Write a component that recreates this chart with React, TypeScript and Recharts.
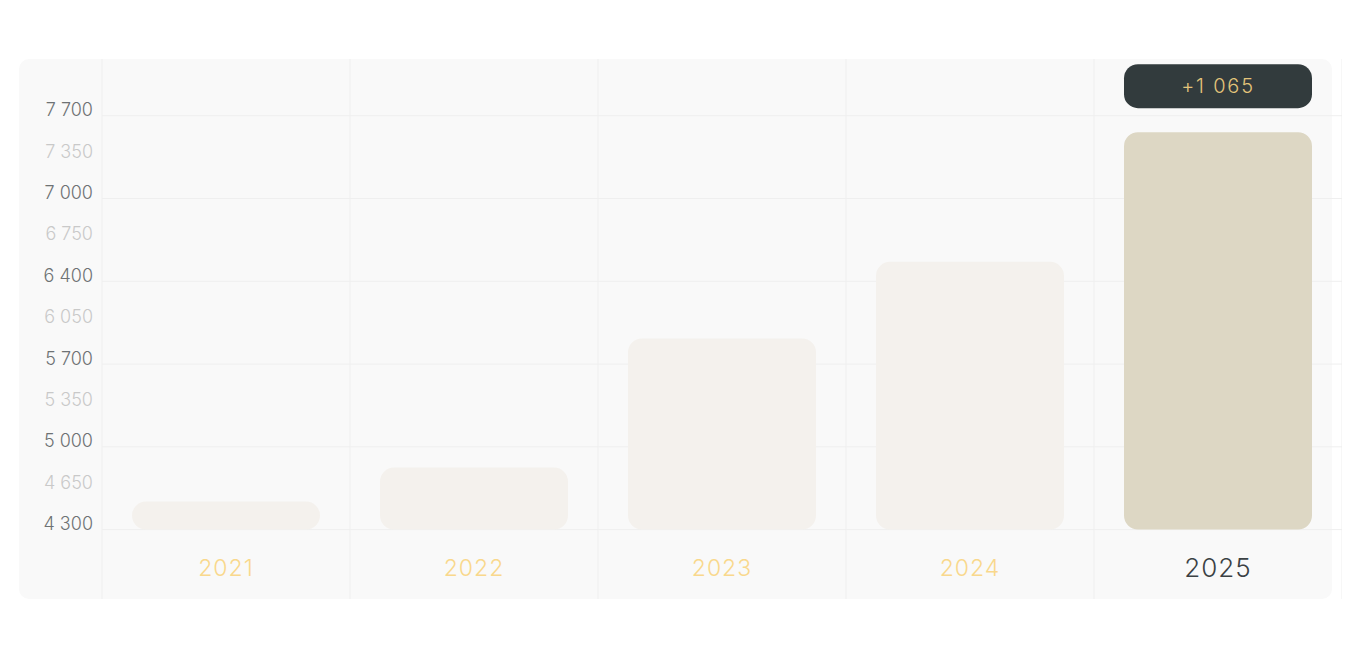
import React from 'react';
import { BarChart, Bar, XAxis, YAxis, CartesianGrid, LabelList, Cell } from 'recharts';

const YEARS = ['2021', '2022', '2023', '2024', '2025'];
const VALUES = [4530, 4810, 5870, 6500, 7565];
const BASE = 4300;

const TICK_VALUES = [4300, 4640, 4980, 5320, 5660, 6000, 6340, 6680, 7020, 7360, 7700];
const TICK_LABELS = ['4 300', '4 650', '5 000', '5 350', '5 700', '6 050', '6 400', '6 750', '7 000', '7 350', '7 700'];
const MAJOR_TICKS = [4300, 4980, 5660, 6340, 7020, 7700];

const FONT = 'Inter, "Noto Sans", sans-serif';
const BAR_COLOR = '#f4f1ed';
const BAR_ACTIVE = '#ddd7c4';

const data = YEARS.map((year, i) => ({ year, range: [BASE, VALUES[i]], value: VALUES[i] }));
const last = YEARS.length - 1;
const delta = VALUES[last] - VALUES[last - 1];
const fmt = (n: number) => String(n).replace(/\B(?=(\d{3})+(?!\d))/g, ' ');

const YTick = ({ x, y, payload }: any) => {
    const label = TICK_LABELS[TICK_VALUES.indexOf(payload.value)] ?? '';
    const major = MAJOR_TICKS.includes(payload.value);
    return (
        <text x={x} y={y - 6} textAnchor="end" dominantBaseline="central" fontFamily={FONT} fontWeight={300}
            fontSize={18} fill={major ? '#6e7274' : '#c9c9c9'}>
            {label}
        </text>
    );
};

// year labels sit under each bar, inside the panel
const YearLabel = (props: any) => {
    const { x, y, width, height, index } = props;
    const active = index === last;
    return (
        <text x={x + width / 2} y={y + height + 38} textAnchor="middle" dominantBaseline="central" fontFamily={FONT}
            fontWeight={300} fontSize={active ? 26 : 23} letterSpacing={1} fill={active ? '#3b4144' : '#f9d88c'}>
            {YEARS[index]}
        </text>
    );
};

const Badge = (props: any) => {
    const { x, y, width, index } = props;
    if (index !== last) return null;
    const h = 44;
    const top = y - 24 - h;
    return (
        <g>
            <rect x={x} y={top} width={width} height={h} rx={14} ry={14} fill="#323b3d" />
            <text x={x + width / 2} y={top + h / 2} textAnchor="middle" dominantBaseline="central" fontFamily={FONT}
                fontWeight={300} fontSize={20} letterSpacing={1.8} fill="#e3c47a">
                {'+' + fmt(delta)}
            </text>
        </g>
    );
};

export default function App() {
    return (
        <div style={{ position: 'relative', width: 1335, height: 540, marginTop: 51, marginLeft: -1, borderLeft: '1px solid #efefef' }}>
            <div style={{ position: 'absolute', left: 11, top: 0, width: 1313, height: 540, borderRadius: 10, background: '#f9f9f9' }} />
            <div style={{ position: 'absolute', left: 0, top: 0 }}>
                <BarChart width={1335} height={540} data={data} margin={{ top: 0, right: 1, bottom: 0, left: 0 }} barSize={188}>
                    <CartesianGrid
                        stroke="#efefef"
                        horizontalValues={MAJOR_TICKS}
                        verticalCoordinatesGenerator={({ offset }: any) =>
                            Array.from({ length: YEARS.length + 1 }, (_, i) => offset.left + (i * offset.width) / YEARS.length)}
                    />
                    <XAxis dataKey="year" hide />
                    <YAxis type="number" domain={[3730, 8166]} ticks={TICK_VALUES} width={94} tickSize={0} tickMargin={9}
                        axisLine={false} tickLine={false} tick={<YTick />} interval={0} allowDataOverflow />
                    <Bar dataKey="range" radius={14} isAnimationActive={false}>
                        {data.map((_, i) => (
                            <Cell key={i} fill={i === last ? BAR_ACTIVE : BAR_COLOR} />
                        ))}
                        <LabelList dataKey="value" content={<Badge />} />
                        <LabelList dataKey="year" content={<YearLabel />} />
                    </Bar>
                </BarChart>
            </div>
        </div>
    );
}
